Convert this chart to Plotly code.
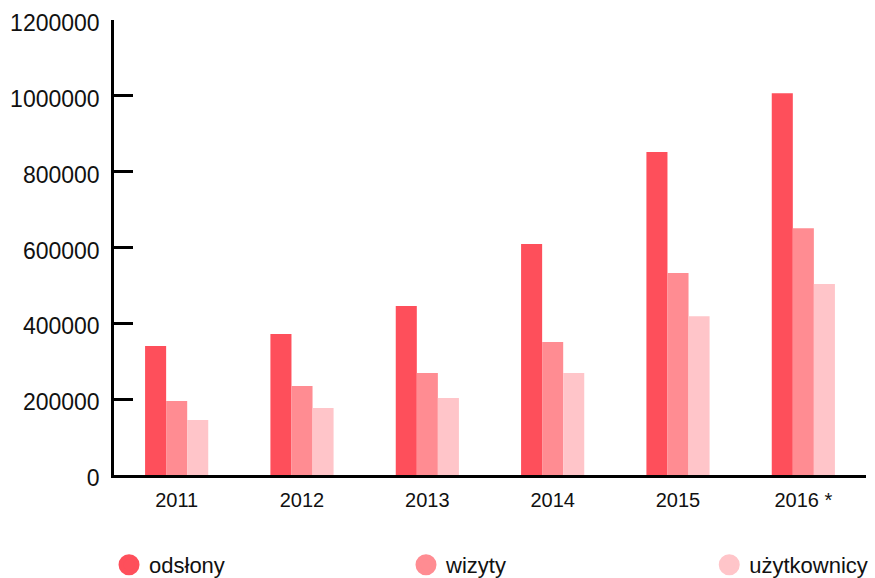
import plotly.graph_objects as go

years = ["2011", "2012", "2013", "2014", "2015", "2016 *"]
odslony = [340000, 372000, 446000, 609000, 852000, 1007000]
wizyty = [195000, 235000, 269000, 351000, 533000, 651000]
uzytkownicy = [145000, 177000, 203000, 269000, 419000, 504000]
series_names = ["odsłony", "wizyty", "użytkownicy"]
colors = ["#fe4f5b", "#ff8c92", "#ffc5c9"]
y_ticks = [0, 200000, 400000, 600000, 800000, 1000000, 1200000]

FONT = "Liberation Sans"
TXT = "#111111"

fig = go.Figure()
for name, vals, col in zip(series_names, [odslony, wizyty, uzytkownicy], colors):
    fig.add_trace(go.Bar(x=years, y=vals, name=name, marker=dict(color=col, line=dict(width=0)),
                         showlegend=False))
legend_ids = ["legend", "legend2", "legend3"]
for name, col, lid in zip(series_names, colors, legend_ids):
    fig.add_trace(go.Scatter(x=[None], y=[None], mode="markers", name=name, legend=lid,
                             marker=dict(color=col, size=16, symbol="circle",
                                         line=dict(color=col, width=5))))

leg_common = dict(orientation="h", xref="container", yref="container",
                  yanchor="middle", y=0.0225,
                  font=dict(size=22, family=FONT, color=TXT),
                  itemclick=False, itemdoubleclick=False, bgcolor="rgba(0,0,0,0)",
                  borderwidth=0)

fig.update_layout(
    width=875, height=578,
    margin=dict(l=114, r=9, t=20, b=103, autoexpand=False),
    plot_bgcolor="white", paper_bgcolor="white",
    barmode="group", bargap=0.496, bargroupgap=0,
    font=dict(family=FONT, color=TXT),
    legend=dict(x=0.1246, xanchor="left", **leg_common),
    legend2=dict(x=0.464, xanchor="left", **leg_common),
    legend3=dict(x=0.998, xanchor="right", **leg_common),
    xaxis=dict(type="category", range=[-0.5, 5.5], showgrid=False, ticks="",
               showline=True, linecolor="black", linewidth=2.5,
               tickfont=dict(size=20, family=FONT, color=TXT),
               ticklabelstandoff=5, fixedrange=True, automargin=False),
    yaxis=dict(range=[0, 1200000], tickvals=y_ticks, ticktext=[str(v) for v in y_ticks],
               showgrid=False, zeroline=False, showline=True, linecolor="black", linewidth=2.5,
               ticks="inside", ticklen=19, tickwidth=2.5, tickcolor="black",
               tickfont=dict(size=23, family=FONT, color=TXT),
               ticklabelstandoff=7, ticklabelshift=3, fixedrange=True, automargin=False),
)

fig.write_html("out.html", config={"displayModeBar": False},
               post_script="document.body.style.margin='0';document.body.style.overflow='hidden';")
